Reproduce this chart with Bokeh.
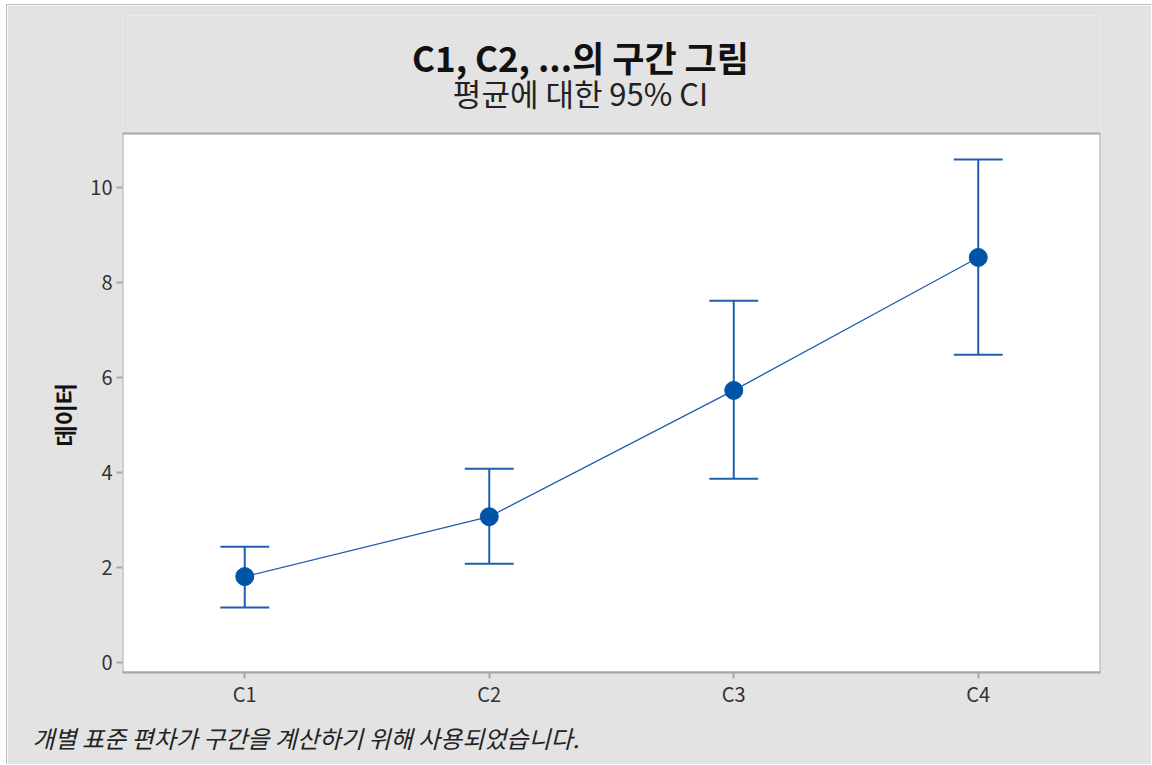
from bokeh.plotting import figure
from bokeh.models import (ColumnDataSource, FactorRange, FixedTicker, Title, Range1d, Label)
from bokeh.embed import file_html
from bokeh.resources import INLINE

categories = ["C1", "C2", "C3", "C4"]
means = [1.81, 3.07, 5.73, 8.53]
lower = [1.16, 2.08, 3.87, 6.48]
upper = [2.44, 4.08, 7.62, 10.59]
y_ticks = [0, 2, 4, 6, 8, 10]

title_text = "C1, C2, ...의 구간 그림"
subtitle_text = "평균에 대한 95% CI"
footer_text = "개별 표준 편차가 구간을 계산하기 위해 사용되었습니다."
y_label = "데이터"

FONT = "Noto Sans CJK KR"
BG = "#e3e3e3"
FRAME = "#a6a6a6"
BLUE = "#1d5fae"
DOT = "#0054a6"
CAP = 0.1  # half cap width in category units

# layout (pixels in the page): white data area spans y 133..672; frame extends up to 15
Y_LO, Y_HI = -0.21, 11.14
AREA_TOP, AREA_BOT, FRAME_TOP = 133, 672, 15
PPU = (AREA_BOT - AREA_TOP) / (Y_HI - Y_LO)
def px_to_y(py):
    return Y_HI + (AREA_TOP - py) / PPU

src = ColumnDataSource(dict(x=categories, m=means, lo=lower, hi=upper,
                            cl=[(c, -CAP) for c in categories],
                            cr=[(c, CAP) for c in categories]))
area = ColumnDataSource(dict(left=[(categories[0], -0.5)], right=[(categories[-1], 0.5)],
                             bottom=[Y_LO], top=[Y_HI]))

p = figure(width=1145, height=760, output_backend="svg", toolbar_location=None,
           x_range=FactorRange(*categories, range_padding=0),
           y_range=Range1d(Y_LO, px_to_y(FRAME_TOP)))
p.styles = {"margin-left": "6px", "margin-top": "4px",
            "border-left": "1px solid #bdbdbd", "border-top": "1px solid #bdbdbd"}
p.background_fill_color = BG
p.border_fill_color = BG
p.outline_line_color = None
p.min_border_left = 115
p.min_border_right = 52
p.min_border_top = FRAME_TOP - 5
p.min_border_bottom = 93

# white data area with its grey border
p.quad(left="left", right="right", bottom="bottom", top="top", source=area,
       fill_color="white", line_color=FRAME, line_width=2)

p.add_layout(Label(x=458, y=px_to_y(56), x_units="screen", text=title_text,
                   text_align="center", text_baseline="middle", text_font=FONT,
                   text_font_size="35px", text_font_style="bold", text_color="#111111"))
p.add_layout(Label(x=458, y=px_to_y(92), x_units="screen", text=subtitle_text,
                   text_align="center", text_baseline="middle", text_font=FONT,
                   text_font_size="31px", text_color="#222222"))

foot = Title(text=footer_text, align="left", text_font=FONT, text_font_size="24px",
             text_font_style="italic", text_color="#222222", offset=-90, standoff=14)
p.add_layout(foot, "below")

p.grid.visible = False

for ax in (p.xaxis, p.yaxis):
    ax.axis_line_color = None
    ax.major_tick_line_color = FRAME
    ax.major_tick_line_width = 2
    ax.major_tick_out = 6
    ax.major_tick_in = 0
    ax.minor_tick_line_color = None
    ax.major_label_text_font = FONT
    ax.major_label_text_font_size = "20px"
    ax.major_label_text_color = "#333333"

p.xaxis.axis_line_color = FRAME
p.xaxis.axis_line_width = 2
p.yaxis.ticker = FixedTicker(ticks=y_ticks)
p.yaxis.major_label_standoff = 4
p.xaxis.major_label_standoff = 0

ylab = Title(text=y_label, align="left", text_font=FONT, text_font_size="23px",
             text_font_style="bold", text_color="#111111", standoff=14, offset=226)
p.add_layout(ylab, "left")

# confidence intervals: vertical bars and caps
p.segment(x0="x", y0="lo", x1="x", y1="hi", source=src, line_color=BLUE, line_width=2)
p.segment(x0="cl", y0="lo", x1="cr", y1="lo", source=src, line_color=BLUE, line_width=2)
p.segment(x0="cl", y0="hi", x1="cr", y1="hi", source=src, line_color=BLUE, line_width=2)

p.line("x", "m", source=src, line_color=BLUE, line_width=1.3)
p.scatter("x", "m", source=src, size=18, fill_color=DOT, line_color=DOT)

open("out.html", "w").write(file_html(p, INLINE))
